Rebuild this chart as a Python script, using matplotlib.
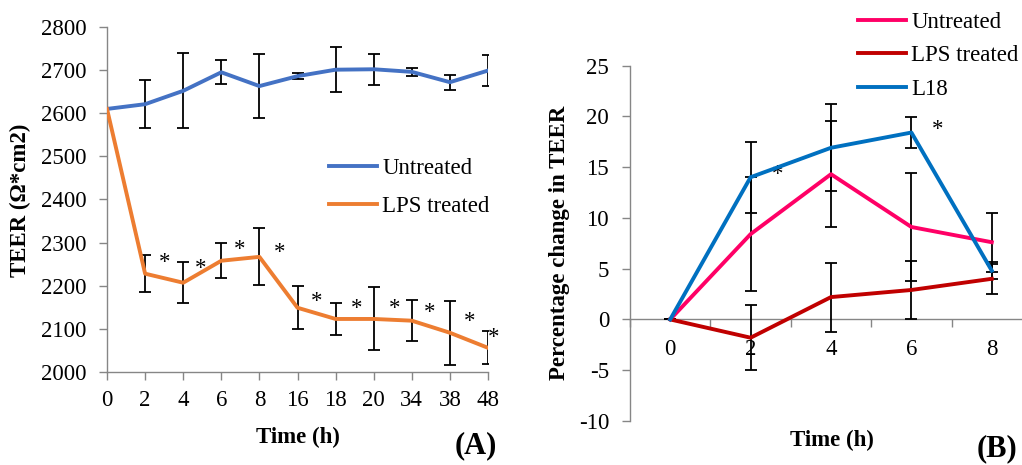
import matplotlib
matplotlib.use("Agg")
import matplotlib.pyplot as plt
import numpy as np

plt.rcParams['font.family'] = ['Liberation Serif', 'DejaVu Serif']
plt.rcParams['axes.unicode_minus'] = False

# ---------------- Panel A data ----------------
time_a = ['0', '2', '4', '6', '8', '16', '18', '20', '34', '38', '48']
untreated_a = [2610, 2621, 2652, 2695, 2663, 2686, 2701, 2702, 2696, 2672, 2699]
untreated_a_err = [0, 55, 87, 28, 75, 7, 52, 36, 10, 17, 35]
lps_a = [2610, 2228, 2207, 2258, 2267, 2149, 2123, 2123, 2119, 2091, 2056]
lps_a_err = [0, 43, 47, 40, 66, 50, 38, 73, 48, 74, 38]
stars_a_x = [1.52, 2.47, 3.47, 4.53, 5.51, 6.55, 7.55, 8.48, 9.52, 10.16]
stars_a_y = [2255, 2241, 2283, 2276, 2164, 2148, 2148, 2137, 2116, 2081]

# ---------------- Panel B data ----------------
time_b = ['0', '2', '4', '6', '8']
untreated_b = [0, 8.4, 14.3, 9.1, 7.6]
untreated_b_err = [0, 5.6, 5.2, 5.3, 2.9]
lps_b = [0, -1.8, 2.2, 2.9, 4.0]
lps_b_err = [0, 3.2, 3.4, 2.9, 1.5]
l18_b = [0, 14.0, 16.9, 18.4, 4.8]
l18_b_err = [0, 3.5, 4.3, 1.5, 0.85]
stars_b_x = [1.33, 3.33]
stars_b_y = [14.3, 18.7]

W, H = 1022, 465
fig = plt.figure(figsize=(W / 100, H / 100), dpi=100)

AX_GRAY = '#868686'
FS = 16.5

def px(x0, y0, x1, y1):
    return [x0 / W, 1 - y1 / H, (x1 - x0) / W, (y1 - y0) / H]

eb_kw = dict(ecolor='black', elinewidth=1.3, capsize=4.5, capthick=1.3, zorder=3, lw=2.8)

# ---------------- Panel A ----------------
axA = fig.add_axes(px(107, 27, 488, 372))
xa = np.arange(len(time_a))
blue_a = '#4472C4'
orange_a = '#ED7D31'
axA.errorbar(xa, untreated_a, yerr=untreated_a_err, color=blue_a, **eb_kw)
axA.errorbar(xa, lps_a, yerr=lps_a_err, color=orange_a, **eb_kw)
for sx, sy in zip(stars_a_x, stars_a_y):
    axA.text(sx, sy, '*', ha='center', va='center', fontsize=FS, color='black')
axA.set_xlim(0, 10)
axA.set_ylim(2000, 2800)
axA.set_xticks(xa)
axA.set_xticklabels(time_a)
axA.set_yticks(np.arange(2000, 2801, 100))
for s in ['top', 'right']:
    axA.spines[s].set_visible(False)
for s in ['left', 'bottom']:
    axA.spines[s].set_color(AX_GRAY)
    axA.spines[s].set_linewidth(1.0)
axA.tick_params(axis='both', colors=AX_GRAY, labelcolor='black', labelsize=FS, length=6, width=1.0)
axA.tick_params(axis='x', pad=7)
axA.tick_params(axis='y', pad=9)
hA = [plt.Line2D([], [], color=blue_a, lw=2.8), plt.Line2D([], [], color=orange_a, lw=2.8)]
fig.legend(hA, ['Untreated', 'LPS treated'], loc='upper left',
           bbox_to_anchor=(329 / W, 1 - 158 / H), frameon=False, fontsize=FS,
           handlelength=2.1, handletextpad=0.22, labelspacing=0.73, borderaxespad=0, borderpad=0)
fig.text(20 / W, 1 - 200 / H, 'TEER (Ω*cm2)', rotation=90, ha='center', va='center',
         fontsize=FS, fontweight='bold')
fig.text(298 / W, 1 - 437 / H, 'Time (h)', ha='center', va='center', fontsize=FS, fontweight='bold')
fig.text(476 / W, 1 - 446 / H, '(A)', ha='center', va='center', fontsize=22, fontweight='bold')

# ---------------- Panel B ----------------
axB = fig.add_axes(px(630, 65.5, 1032, 421))
xb = np.arange(len(time_b))
pink = '#FF0066'
darkred = '#C00000'
blue_b = '#0070C0'
axB.errorbar(xb, untreated_b, yerr=untreated_b_err, color=pink, **eb_kw)
axB.errorbar(xb, lps_b, yerr=lps_b_err, color=darkred, **eb_kw)
axB.errorbar(xb, l18_b, yerr=l18_b_err, color=blue_b, **eb_kw)
for sx, sy in zip(stars_b_x, stars_b_y):
    axB.text(sx, sy, '*', ha='center', va='center', fontsize=FS, color='black')
axB.set_xlim(-0.5, 4.5)
axB.set_ylim(-10, 25)
axB.set_yticks(np.arange(-10, 26, 5))
axB.set_xticks(xb)
axB.set_xticklabels(time_b)
axB.set_xticks(np.arange(-0.5, 4.6, 1.0), minor=True)
for s in ['top', 'right']:
    axB.spines[s].set_visible(False)
axB.spines['bottom'].set_position(('data', 0))
for s in ['left', 'bottom']:
    axB.spines[s].set_color(AX_GRAY)
    axB.spines[s].set_linewidth(1.0)
axB.tick_params(axis='y', colors=AX_GRAY, labelcolor='black', labelsize=FS, length=6, width=1.0, pad=9)
axB.tick_params(axis='x', which='major', length=0, labelsize=FS, labelcolor='black', pad=14)
axB.tick_params(axis='x', which='minor', length=6, width=1.0, colors=AX_GRAY)
hB = [plt.Line2D([], [], color=pink, lw=2.8), plt.Line2D([], [], color=darkred, lw=2.8),
      plt.Line2D([], [], color=blue_b, lw=2.8)]
fig.legend(hB, ['Untreated', 'LPS treated', 'L18'], loc='upper left',
           bbox_to_anchor=(858 / W, 1 - 11.5 / H), frameon=False, fontsize=FS,
           handlelength=2.1, handletextpad=0.22, labelspacing=0.55, borderaxespad=0, borderpad=0)
fig.text(560 / W, 1 - 243 / H, 'Percentage change in TEER', rotation=90, ha='center', va='center',
         fontsize=FS, fontweight='bold')
fig.text(832 / W, 1 - 440 / H, 'Time (h)', ha='center', va='center', fontsize=FS, fontweight='bold')
fig.text(997 / W, 1 - 449 / H, '(B)', ha='center', va='center', fontsize=22, fontweight='bold')

fig.savefig('out.png', dpi=100)
